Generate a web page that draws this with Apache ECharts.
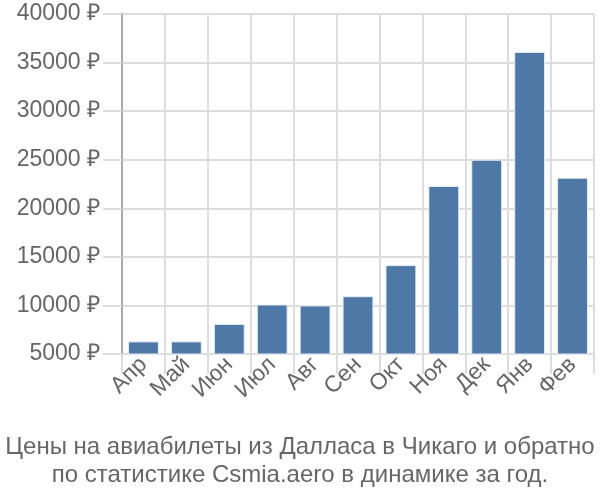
<!DOCTYPE html>
<html><head><meta charset="utf-8">
<script src="https://cdn.jsdelivr.net/npm/echarts@6/dist/echarts.min.js"></script>
<style>html,body{margin:0;padding:0;background:#fff}#c{width:600px;height:500px}</style>
</head><body><div id="c"></div>
<script>
var categories = ['Апр','Май','Июн','Июл','Авг','Сен','Окт','Ноя','Дек','Янв','Фев'];
var prices = [6300, 6300, 8100, 10100, 10000, 10950, 14150, 22300, 25000, 36100, 23150];
var titleLines = ['Цены на авиабилеты из Далласа в Чикаго и обратно', 'по статистике Csmia.aero в динамике за год.'];
var chart = echarts.init(document.getElementById('c'), null, {renderer:'canvas'});
var font = 'Liberation Sans, Arial, sans-serif';
chart.setOption({
  animation:false,
  title:{text:titleLines.join('\n'), left:'center', bottom:6,
    textStyle:{fontFamily:font, fontSize:24, fontWeight:'normal', color:'#666', lineHeight:28}},
  grid:{left:122, right:6, top:14, bottom:146, containLabel:false},
  xAxis:{type:'category', data:categories,
    axisLine:{show:false},
    axisTick:{show:true, length:20, lineStyle:{color:'#ddd', width:2}},
    splitLine:{show:true, lineStyle:{color:'#ddd', width:2}},
    axisLabel:{rotate:45, fontFamily:font, fontSize:23, color:'#666', margin:7, interval:0}},
  yAxis:{type:'value', min:5000, max:40000, interval:5000,
    axisLine:{show:true, lineStyle:{color:'#aaa', width:2}},
    axisTick:{show:true, length:19, lineStyle:{color:'#ddd', width:2}},
    splitLine:{lineStyle:{color:'#ddd', width:2}},
    axisLabel:{fontFamily:font, fontSize:23, color:'#666', margin:22, padding:[3,0,0,0],
      formatter:function(v){return v+' ₽';}}},
  series:[{type:'bar', data:prices, barWidth:'72%',
    itemStyle:{color:'#4e79a7', borderColor:'#e8eef5', borderWidth:1}}]
});
</script></body></html>
